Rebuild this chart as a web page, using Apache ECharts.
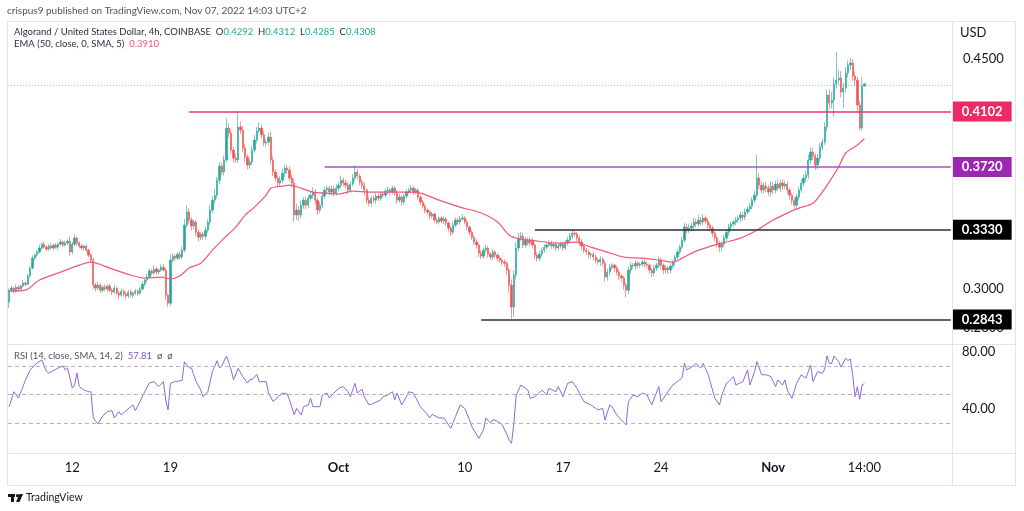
<!DOCTYPE html>
<html><head><meta charset="utf-8">
<script src="https://cdn.jsdelivr.net/npm/echarts@6/dist/echarts.min.js"></script>
<style>html,body{margin:0;padding:0;background:#fff}#c{width:1024px;height:511px}</style>
</head><body><div id="c"></div>
<script>
// ---- DATA (ALGO/USD, 4h, COINBASE) ----
const startTimeUTC = Date.UTC(2022, 8, 7, 14, 0); // first candle: Sep 7 2022 14:00 (chart time)
const candleCount = 367;
const rightPadCandles = 37;
const firstOpen = 0.2932;
const closes = [
.2994,.3005,.2989,.3010,.3000,.3016,.3032,.3026,.3070,.3113,
.3168,.3185,.3202,.3225,.3247,.3230,.3219,.3236,.3225,.3242,
.3230,.3247,.3259,.3242,.3253,.3264,.3202,.3247,.3282,.3253,
.3236,.3225,.3236,.3213,.3185,.3157,.3021,.3005,.3021,.2994,
.3010,.3000,.3016,.2994,.2984,.3005,.2978,.2968,.2989,.2973,
.2963,.2984,.2968,.2978,.2989,.2978,.3000,.3026,.3048,.3064,
.3097,.3086,.3108,.3091,.3102,.3118,.3102,.2968,.2926,.3157,
.3179,.3168,.3190,.3174,.3213,.3358,.3436,.3388,.3352,.3376,
.3316,.3287,.3305,.3293,.3328,.3376,.3448,.3509,.3540,.3635,
.3726,.3687,.3766,.3984,.3950,.3833,.3779,.3766,.3991,.3970,
.3847,.3786,.3733,.3753,.3833,.3901,.3963,.3984,.3936,.3880,
.3887,.3922,.3766,.3687,.3648,.3616,.3635,.3680,.3713,.3700,
.3648,.3616,.3418,.3448,.3418,.3478,.3509,.3478,.3521,.3540,
.3559,.3509,.3448,.3478,.3534,.3572,.3584,.3559,.3578,.3553,
.3584,.3603,.3635,.3616,.3603,.3572,.3610,.3648,.3687,.3661,
.3622,.3603,.3572,.3509,.3490,.3521,.3509,.3534,.3521,.3547,
.3540,.3565,.3572,.3559,.3584,.3553,.3509,.3528,.3497,.3534,
.3559,.3572,.3584,.3559,.3572,.3528,.3497,.3472,.3448,.3436,
.3412,.3424,.3388,.3376,.3400,.3382,.3394,.3370,.3340,.3316,
.3358,.3388,.3376,.3394,.3400,.3376,.3346,.3316,.3287,.3259,
.3242,.3196,.3179,.3213,.3225,.3190,.3174,.3202,.3185,.3168,
.3157,.3146,.3140,.3102,.3021,.2906,.3075,.3225,.3282,.3293,
.3242,.3270,.3253,.3270,.3242,.3185,.3168,.3190,.3213,.3230,
.3242,.3253,.3236,.3247,.3225,.3236,.3247,.3225,.3253,.3270,
.3293,.3310,.3305,.3282,.3259,.3236,.3213,.3202,.3185,.3190,
.3174,.3157,.3146,.3163,.3140,.3064,.3091,.3118,.3129,.3113,
.3091,.3070,.3059,.3021,.2994,.3102,.3129,.3124,.3140,.3129,
.3135,.3146,.3135,.3129,.3102,.3086,.3113,.3129,.3157,.3129,
.3102,.3113,.3102,.3124,.3146,.3174,.3202,.3230,.3270,.3346,
.3328,.3340,.3352,.3376,.3364,.3388,.3376,.3400,.3382,.3358,
.3340,.3310,.3282,.3253,.3230,.3247,.3282,.3316,.3346,.3364,
.3376,.3388,.3400,.3418,.3406,.3436,.3454,.3472,.3509,.3540,
.3648,.3603,.3572,.3597,.3584,.3559,.3597,.3572,.3610,.3584,
.3616,.3597,.3610,.3572,.3540,.3509,.3478,.3528,.3572,.3616,
.3648,.3667,.3766,.3820,.3793,.3733,.3779,.3853,.3887,.3991,
.4223,.4164,.4186,.4306,.4336,.4352,.4246,.4276,.4391,.4453,
.4469,.4367,.4336,.4149,.3984,.4292,.4308];
const tickSize = 0.0001;
const upperWickTicks = [
8,12,6,15,10,9,14,7,12,10, 15,8,12,20,10,14,9,11,16,8, 12,10,18,9,14,11,25,12,20,8,
10,14,9,12,8,10,14,12,18,10, 9,15,8,12,10,16,7,11,13,9, 12,10,14,8,11,9,12,15,10,18,
14,10,22,12,9,16,20,10,8,30, 18,12,10,15,20,35,40,25,18,14, 12,16,10,14,20,18,30,25,35,20,
28,22,30,70,35,25,20,30,115,40, 30,25,18,22,30,35,28,40,25,30, 20,30,35,25,20,18,25,30,22,20,
25,20,30,40,25,30,18,22,20,25, 30,20,15,22,25,20,18,15,22,20, 25,20,30,15,20,22,18,25,46,20,
15,18,20,12,22,15,18,20,14,16, 15,18,20,12,16,14,18,20,12,15, 18,14,20,15,12,10,14,12,16,10,
12,15,10,14,12,10,15,12,10,14, 20,16,14,18,22,12,15,10,14,12, 16,10,18,14,20,12,15,18,12,10,
14,12,15,10,12,30,25,35,30,25, 20,18,15,20,14,12,16,18,14,15, 12,16,14,12,15,18,14,12,16,20,
18,24,15,12,14,16,10,12,14,10, 12,14,10,16,12,14,18,16,12,10, 14,12,10,12,14,18,16,12,14,10,
12,10,14,12,10,12,16,14,20,12, 10,14,12,16,12,14,18,16,20,25, 20,22,18,25,20,30,18,22,16,14,
12,14,10,12,14,16,18,14,20,16, 14,18,16,20,18,22,16,20,18,25, 150,30,25,20,28,22,30,25,20,28,
22,25,20,18,15,12,16,20,18,25, 22,28,35,30,25,20,30,28,25,35, 40,45,60,50,220,60,55,40,45,35,
40,30,35,25,30,68,4];
const lowerWickTicks = [
30,10,12,8,14,10,9,12,8,10, 6,12,10,8,14,9,12,10,8,12, 10,14,8,12,9,10,20,12,8,14,
12,10,14,9,12,15,20,18,12,15, 10,12,14,9,15,10,12,18,10,12, 15,10,12,14,9,12,10,8,12,10,
9,12,10,14,12,10,8,25,20,15, 12,18,10,14,12,10,15,20,25,18, 22,25,15,20,18,15,20,18,22,20,
25,20,22,15,30,25,28,20,18,25, 30,35,28,25,20,18,22,15,25,20, 25,20,30,25,22,30,20,18,25,22,
20,25,40,30,35,20,22,25,18,20, 22,25,30,20,18,15,20,22,18,20, 15,20,18,22,20,25,18,15,20,22,
20,22,35,25,20,22,18,20,15,18, 16,14,18,20,15,18,22,16,20,15, 14,12,15,18,14,16,18,15,20,16,
18,14,16,12,15,14,18,16,20,22, 14,12,15,16,12,14,18,20,16,18, 20,22,18,16,14,20,18,15,16,18,
15,18,20,25,40,60,50,20,18,15, 18,16,15,18,20,22,18,16,14,15, 14,12,16,14,15,12,14,16,12,14,
12,14,16,18,20,22,18,16,20,18, 20,18,16,22,18,25,20,18,16,20, 18,22,20,25,37,22,18,16,20,18,
16,14,18,16,20,22,18,16,14,20, 22,18,20,16,14,18,16,14,12,15, 18,16,20,18,22,16,20,18,16,20,
18,22,20,25,28,20,18,16,20,18, 16,20,18,22,20,18,16,22,20,18, 20,25,22,20,25,22,28,25,22,20,
22,25,20,22,25,28,30,22,20,18, 20,22,25,28,30,32,28,25,22,20, 30,45,40,120,35,30,40,120,35,30,
40,35,45,50,14,20,7];
// EMA(50): [candle index, value]
const emaPoints = [[0,.2989],[7,.2994],[13,.3048],[22,.3091],[30,.3129],[35,.3146],[43,.3113],[52,.3075],[58,.3059],[65,.3064],[69,.3054],[73,.3070],[77,.3113],[82,.3140],[87,.3213],[92,.3282],[97,.3346],[101,.3418],[105,.3466],[110,.3540],[112,.3584],[117,.3597],[120,.3603],[125,.3584],[130,.3559],[135,.3553],[141,.3547],[147,.3565],[154,.3559],[171,.3559],[176,.3553],[184,.3509],[193,.3466],[202,.3430],[209,.3376],[214,.3299],[219,.3276],[223,.3270],[235,.3253],[242,.3259],[249,.3230],[256,.3202],[263,.3174],[271,.3168],[278,.3157],[284,.3146],[288,.3168],[293,.3202],[299,.3230],[305,.3253],[313,.3282],[320,.3328],[327,.3388],[334,.3436],[338,.3460],[344,.3490],[348,.3559],[352,.3648],[355,.3720],[358,.3813],[363,.3867],[366,.3910]];
// RSI(14): [candle index, value]
const rsiPoints = [[0,41.6],[2,52.1],[4,47.7],[7,60.4],[9,67.4],[12,72.3],[14,74.4],[16,66.2],[17,65.2],[21,68.8],[23,70.2],[24,67.4],[25,68.8],[27,54.7],[28,56.8],[29,65.2],[30,55.7],[32,53.3],[34,52.1],[35,52.1],[36,33.7],[38,29.5],[40,35.1],[42,38.1],[44,38.8],[45,33.7],[47,38.1],[48,35.8],[50,38.8],[53,42.8],[54,38.8],[56,45.1],[58,52.1],[60,58.2],[62,59.2],[64,55.7],[66,59.2],[67,46.3],[68,39.3],[69,58.0],[71,59.2],[74,60.0],[75,73.2],[77,68.8],[78,68.8],[80,59.2],[82,53.3],[83,48.6],[85,52.1],[87,66.2],[89,73.9],[90,68.8],[91,70.2],[93,77.2],[95,67.4],[96,60.4],[98,68.5],[100,62.7],[102,58.2],[103,60.6],[104,60.6],[106,64.3],[107,59.2],[110,59.2],[111,51.2],[113,45.1],[115,48.6],[117,51.2],[119,50.5],[120,46.3],[122,35.8],[123,40.4],[125,35.8],[126,41.6],[128,42.8],[129,47.5],[130,41.6],[133,41.6],[134,49.8],[136,51.2],[137,47.7],[139,51.2],[141,54.5],[143,55.7],[145,52.1],[146,48.6],[148,58.0],[149,51.2],[151,54.0],[152,48.6],[154,42.8],[156,44.0],[159,46.3],[160,48.6],[162,49.8],[164,52.1],[165,46.3],[166,51.2],[168,42.8],[170,48.6],[171,52.1],[173,51.2],[176,41.6],[178,38.1],[180,33.7],[181,36.2],[184,33.7],[186,33.7],[189,26.4],[191,34.6],[193,42.8],[195,40.4],[197,32.3],[198,27.6],[201,19.4],[203,25.3],[204,33.7],[206,30.2],[207,32.5],[209,31.4],[211,29.0],[213,22.0],[214,18.0],[215,15.9],[216,30.0],[217,49.8],[219,56.8],[222,53.3],[223,47.5],[225,48.6],[228,53.3],[230,49.8],[231,54.5],[234,52.1],[235,55.7],[237,48.6],[239,58.0],[241,59.2],[243,54.5],[246,45.1],[249,42.8],[252,39.3],[254,40.4],[255,32.3],[257,42.8],[258,41.6],[260,35.8],[263,30.5],[264,28.8],[265,45.1],[267,49.8],[269,48.6],[271,51.2],[273,49.8],[275,42.8],[278,55.7],[279,45.1],[281,49.8],[284,56.8],[286,59.2],[288,62.0],[289,72.0],[290,67.4],[292,69.3],[294,72.0],[296,68.6],[297,72.0],[299,65.0],[300,59.2],[302,47.5],[304,42.8],[305,49.8],[307,58.0],[308,59.2],[310,62.7],[311,56.8],[314,59.2],[316,67.4],[317,56.8],[319,66.3],[320,73.3],[322,64.0],[324,64.0],[326,62.7],[328,55.7],[329,60.4],[331,56.8],[332,60.4],[333,53.3],[335,47.5],[337,58.0],[339,64.0],[341,61.6],[343,70.9],[344,59.2],[346,66.3],[348,65.0],[349,68.0],[350,77.2],[351,72.0],[352,72.0],[353,77.2],[355,73.3],[356,69.3],[358,75.6],[359,74.0],[360,75.0],[361,64.0],[362,48.6],[363,55.7],[364,46.8],[365,56.8],[366,57.81]];
// horizontal levels drawn on the chart: value and the candle index where the line starts
const levelValues = [0.4102, 0.3720, 0.3330, 0.2843];
const levelStarts = [77, 135, 225, 202];
const priceTicks = [0.28, 0.30, 0.45];
const rsiTicks = [40, 80];
const rsiBands = [70, 50, 30];
const timeTicks = [[27,'12'],[69,'19'],[141,'Oct'],[195,'10'],[237,'17'],[279,'24'],[327,'Nov'],[366,'14:00']];

// ---- build ----
const FONT = 'Lato, "Open Sans", sans-serif';
const TEXT = '#131722';
const UP = '#26a69a', DOWN = '#ef5350';
const levelColors = ['#ee2a64', '#9c27b0', '#000000', '#000000'];
const levelLineColors = ['#f0306c', '#b04cc4', '#2a2e39', '#2a2e39'];

const totalCats = candleCount + rightPadCandles;
const categories = [];
for (let i = 0; i < totalCats; i++) {
  const d = new Date(startTimeUTC + i * 4 * 3600 * 1000);
  categories.push(d.toISOString().slice(0, 16).replace('T', ' '));
}
const ohlc = closes.map((c, i) => {
  const o = i === 0 ? firstOpen : closes[i - 1];
  const hi = Math.max(o, c) + upperWickTicks[i] * tickSize;
  const lo = Math.min(o, c) - lowerWickTicks[i] * tickSize;
  return [o, c, +lo.toFixed(4), +hi.toFixed(4)];
});
const last = ohlc[ohlc.length - 1];
const lastCat = totalCats - 1;
const tickMap = {};
timeTicks.forEach(([i, l]) => { tickMap[i] = l; });

const levelMarks = levelValues.map((v, k) => [
  { coord: [levelStarts[k], v], lineStyle: { color: levelLineColors[k], width: 1.6, type: 'solid' },
    label: { show: true, position: 'end', distance: 2, formatter: v.toFixed(4), color: '#fff',
      backgroundColor: levelColors[k], padding: [4, 9, 3, 9], fontSize: 13, fontWeight: 'bold', fontFamily: FONT } },
  { coord: [lastCat, v] }
]);
const tickMarks = priceTicks.map(v => ({
  yAxis: v, lineStyle: { color: 'rgba(255,255,255,0)', width: 0 },
  label: { show: true, position: 'end', distance: 11, formatter: v.toFixed(4), color: TEXT, fontSize: 13, fontFamily: FONT }
}));
const lastPriceMark = { yAxis: last[1], lineStyle: { color: 'rgba(38,166,154,0.55)', type: [1, 2], width: 1 }, label: { show: false } };

const chart = echarts.init(document.getElementById('c'), null, { renderer: 'canvas', width: 1024, height: 511 });
chart.setOption({
  animation: false,
  backgroundColor: '#ffffff',
  grid: [
    { left: 8, right: 72, top: 21, height: 323 },
    { left: 8, right: 72, top: 345, height: 108 }
  ],
  xAxis: [
    { type: 'category', gridIndex: 0, data: categories, axisLine: { show: false }, axisTick: { show: false }, axisLabel: { show: false }, splitLine: { show: false } },
    { type: 'category', gridIndex: 1, data: categories, axisLine: { show: false }, axisTick: { show: false }, splitLine: { show: false },
      axisLabel: { interval: (idx) => tickMap[idx] !== undefined,
        formatter: (v, idx) => { const l = tickMap[idx]; return (l === 'Oct' || l === 'Nov') ? '{b|' + l + '}' : l; },
        color: TEXT, fontSize: 13, fontFamily: FONT, margin: 8,
        rich: { b: { fontWeight: 'bold', fontSize: 13, color: TEXT, fontFamily: FONT } } } }
  ],
  yAxis: [
    { type: 'log', gridIndex: 0, position: 'right', min: 0.2723, max: 0.4812, axisLine: { show: false }, axisTick: { show: false }, splitLine: { show: false }, axisLabel: { show: false } },
    { type: 'value', gridIndex: 1, position: 'right', min: 9.1, max: 84.9, axisLine: { show: false }, axisTick: { show: false }, splitLine: { show: false },
      axisLabel: { customValues: rsiTicks, formatter: v => v.toFixed(2), color: TEXT, fontSize: 13, fontFamily: FONT, margin: 10 } }
  ],
  series: [
    { type: 'candlestick', xAxisIndex: 0, yAxisIndex: 0, data: ohlc, barWidth: 1.8, clip: false,
      itemStyle: { color: UP, color0: DOWN, borderColor: 'rgba(38,166,154,0.6)', borderColor0: 'rgba(239,83,80,0.6)', borderWidth: 1 },
      markLine: { silent: true, symbol: ['none', 'none'], animation: false,
        data: [lastPriceMark, ...tickMarks, ...levelMarks] } },
    { type: 'line', xAxisIndex: 0, yAxisIndex: 0, data: emaPoints, showSymbol: false, smooth: 0.3,
      lineStyle: { color: '#f4557f', width: 1.2 }, z: 3 },
    { type: 'line', xAxisIndex: 1, yAxisIndex: 1, data: rsiPoints, showSymbol: false,
      lineStyle: { color: '#8c6bd6', width: 1 },
      markLine: { silent: true, symbol: ['none', 'none'], label: { show: false },
        lineStyle: { color: '#b2b5be', type: [4, 3], width: 1 },
        data: rsiBands.map(v => ({ yAxis: v })) } }
  ],
  graphic: [
    { type: 'rect', shape: { x: 7.5, y: 21.5, width: 1008, height: 464 }, style: { fill: null, stroke: '#e0e3eb', lineWidth: 1 }, z: 10, silent: true },
    { type: 'line', shape: { x1: 7.5, y1: 344.5, x2: 1015.5, y2: 344.5 }, style: { stroke: '#e0e3eb', lineWidth: 1 }, z: 10, silent: true },
    { type: 'line', shape: { x1: 7.5, y1: 453.5, x2: 1015.5, y2: 453.5 }, style: { stroke: '#e0e3eb', lineWidth: 1 }, z: 10, silent: true },
    { type: 'line', shape: { x1: 952.5, y1: 21.5, x2: 952.5, y2: 485.5 }, style: { stroke: '#e0e3eb', lineWidth: 1 }, z: 10, silent: true },
    { type: 'text', x: 7, y: 11, z: 20, style: { text: 'crispus9 published on TradingView.com, Nov 07, 2022 14:03 UTC+2', fontSize: 10, fontFamily: FONT, fill: '#50535e', verticalAlign: 'middle' } },
    { type: 'text', x: 14, y: 32, z: 20, style: {
        text: '{t|Algorand / United States Dollar, 4h, COINBASE}  {t|O}{v|' + last[0].toFixed(4) + '}  {t|H}{v|' + last[3].toFixed(4) + '}  {t|L}{v|' + last[2].toFixed(4) + '}  {t|C}{v|' + last[1].toFixed(4) + '}',
        verticalAlign: 'middle', fontSize: 9.5, fontFamily: FONT,
        rich: { t: { fill: '#2a2e39', fontSize: 9.5, fontFamily: FONT }, v: { fill: UP, fontSize: 9.5, fontFamily: FONT } } } },
    { type: 'text', x: 14, y: 44, z: 20, style: {
        text: '{t|EMA (50, close, 0, SMA, 5)}  {v|' + emaPoints[emaPoints.length - 1][1].toFixed(4) + '}',
        verticalAlign: 'middle', fontSize: 9.5, fontFamily: FONT,
        rich: { t: { fill: '#2a2e39', fontSize: 9.5, fontFamily: FONT }, v: { fill: '#f4557f', fontSize: 9.5, fontFamily: FONT } } } },
    { type: 'text', x: 14, y: 356, z: 20, style: {
        text: '{t|RSI (14, close, SMA, 14, 2)}  {v|' + rsiPoints[rsiPoints.length - 1][1].toFixed(2) + '}  {t|ø}  {t|ø}',
        verticalAlign: 'middle', fontSize: 9.5, fontFamily: FONT,
        rich: { t: { fill: '#50535e', fontSize: 9.5, fontFamily: FONT }, v: { fill: '#7e57c2', fontSize: 9.5, fontFamily: FONT } } } },
    { type: 'text', x: 960, y: 33, z: 20, style: { text: 'USD', fontSize: 13, fontFamily: FONT, fill: TEXT, verticalAlign: 'middle' } },
    { type: 'rect', shape: { x: 8, y: 494, width: 7, height: 3 }, style: { fill: TEXT }, z: 20 },
    { type: 'rect', shape: { x: 11, y: 494, width: 3, height: 8 }, style: { fill: TEXT }, z: 20 },
    { type: 'circle', shape: { cx: 17.5, cy: 495.7, r: 1.6 }, style: { fill: TEXT }, z: 20 },
    { type: 'polygon', shape: { points: [[19.5, 494], [23, 494], [19.5, 502], [16, 502]] }, style: { fill: TEXT }, z: 20 },
    { type: 'text', x: 26, y: 498, z: 20, style: { text: 'TradingView', fontSize: 10.5, fontFamily: FONT, fill: TEXT, verticalAlign: 'middle' } }
  ]
});
</script>
</body></html>
